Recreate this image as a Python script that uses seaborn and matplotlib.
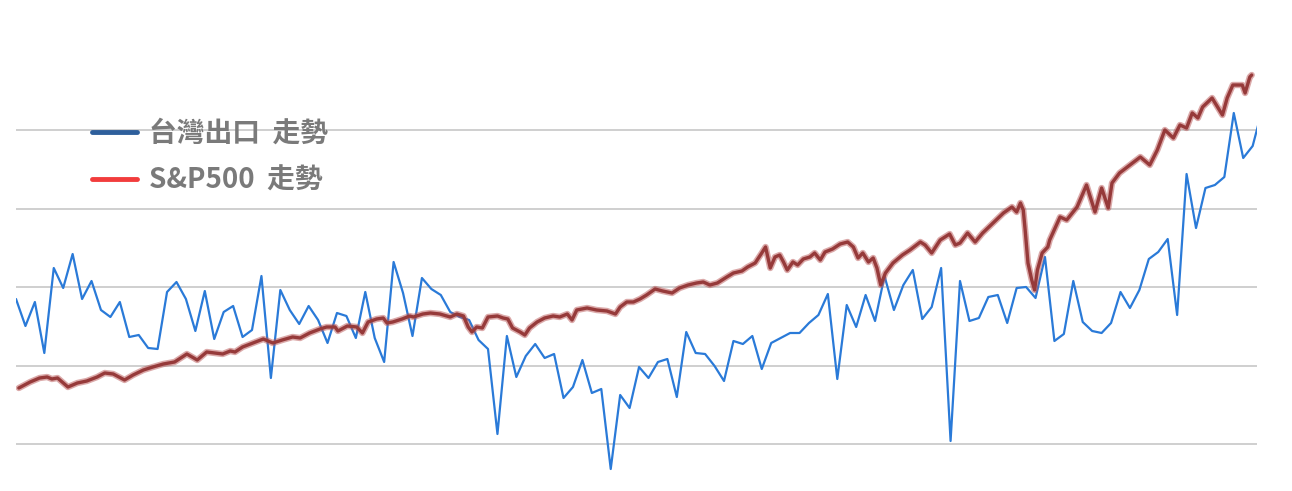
import numpy as np
import pandas as pd
import matplotlib
matplotlib.use("Agg")
import matplotlib.pyplot as plt
from matplotlib.lines import Line2D
import seaborn as sns

# Taiwan exports trend, monthly (relative index units, bottom gridline = 0)
export_trend = [
    145, 118, 142, 91, 176, 156, 190, 145, 163, 134, 127, 142, 107, 109, 96, 95,
    152, 162, 145, 113, 153, 105, 132, 138, 107, 114, 168, 66, 154, 134, 120, 138,
    124, 101, 131, 128, 106, 152, 106, 82, 182, 151, 108, 166, 155, 149, 132, 127,
    124, 104, 95, 10, 108, 67, 88, 100, 86, 90, 46, 57, 84, 51, 55, -25, 49, 36,
    77, 66, 82, 85, 47, 112, 91, 90, 78, 63, 103, 100, 108, 75, 101, 106, 111, 111,
    121, 129, 150, 65, 139, 117, 149, 123, 168, 134, 159, 174, 125, 137, 176, 3,
    163, 123, 126, 147, 149, 121, 156, 157, 146, 187, 103, 110, 163, 122, 113, 111,
    121, 152, 136, 154, 185, 192, 205, 129, 270, 216, 256, 259, 267, 331, 286, 298,
    334,
]
export_month = np.arange(len(export_trend))

# S&P500 trend, sampled at irregular points (month, same index units)
sp_month = [
    0.3, 1.5, 2.5, 3.3, 3.8, 4.4, 5.5, 6.5, 7.5, 8.6, 9.4, 10.3, 11.5, 12.4, 13.5,
    14.5, 15.6, 16.8, 18.1, 19.2, 20.2, 21.1, 21.9, 22.7, 23.2, 24.0, 25.1, 26.2,
    27.2, 28.2, 29.3, 30.1, 31.1, 32.2, 32.9, 33.8, 34.1, 35.1, 36.1, 36.7, 37.3,
    38.2, 38.9, 39.3, 39.9, 40.9, 41.7, 42.1, 43.1, 43.9, 44.9, 46.0, 46.7, 47.4,
    47.9, 48.3, 48.8, 49.4, 50.0, 51.0, 51.6, 52.1, 52.6, 53.4, 53.9, 54.4, 55.2,
    56.0, 56.9, 57.6, 58.4, 58.9, 59.4, 60.5, 61.5, 62.6, 63.5, 64.0, 64.7, 65.4,
    66.1, 66.8, 67.7, 68.5, 69.5, 70.3, 71.2, 72.1, 72.8, 73.5, 74.3, 75.3, 76.0,
    76.9, 77.5, 78.3, 79.0, 79.4, 79.9, 80.4, 80.9, 81.3, 81.7, 82.3, 82.8, 83.4,
    84.1, 84.6, 85.2, 85.7, 86.5, 87.3, 88.1, 88.7, 89.2, 89.7, 90.3, 90.8, 91.2,
    91.6, 92.1, 92.9, 93.9, 94.7, 95.8, 96.3, 97.0, 97.9, 98.9, 99.5, 100.0, 100.8,
    101.6, 102.4, 103.5, 104.6, 105.5, 106.0, 106.4, 106.7, 106.9, 107.2, 107.6,
    107.9, 108.2, 108.7, 109.3, 109.5, 110.6, 111.3, 112.4, 113.4, 114.3, 115.0,
    115.7, 116.1, 116.9, 118.0, 119.1, 120.1, 120.9, 121.7, 122.6, 123.3, 124.0,
    124.6, 125.2, 125.7, 126.7, 127.8, 128.3, 128.9, 129.9, 130.2, 130.7, 130.9,
]
sp_trend = [
    56, 62, 66, 67, 65, 66, 57, 61, 63, 67, 71, 70, 64, 69, 74,
    77, 80, 82, 90, 84, 92, 91, 90, 93, 92, 97, 101, 105,
    101, 104, 107, 106, 111, 115, 117, 117, 113, 118, 117, 111, 122,
    125, 126, 121, 122, 125, 128, 127, 130, 131, 130, 127, 130, 128,
    117, 112, 117, 116, 127, 128, 126, 125, 116, 112, 109, 116, 122,
    126, 128, 127, 130, 124, 134, 136, 134, 133, 130, 137, 142, 142,
    145, 149, 155, 153, 151, 156, 159, 161, 162, 159, 161, 167, 171,
    173, 177, 181, 191, 197, 176, 187, 189, 182, 174, 182, 179, 185,
    187, 191, 184, 192, 195, 200, 202, 197, 186, 191, 182, 186, 176,
    159, 171, 181, 189, 194, 202, 199, 191, 204, 210, 199, 201, 211,
    202, 211, 221, 231, 237, 232, 241, 234, 214, 181, 164,
    154, 174, 191, 197, 204, 227, 224, 237, 259, 232, 256,
    236, 261, 271, 279, 287, 279, 294, 314, 306, 319, 316,
    331, 326, 337, 346, 329, 346, 359, 359, 351, 367, 369,
]

labels = ["台灣出口  走勢", "S&P500  走勢"]
grid_levels = [0, 78.5, 157, 235.5, 314]

sns.set_style("white")
plt.rcParams["font.family"] = ["Noto Sans CJK TC", "DejaVu Sans"]

fig = plt.figure(figsize=(12.92, 4.91), dpi=100)
ax = fig.add_axes([16 / 1292, 0, 1241 / 1292, 1])

exports = pd.DataFrame({"month": export_month, "value": export_trend})
sp = pd.DataFrame({"month": sp_month, "value": sp_trend})

sns.lineplot(data=exports, x="month", y="value", ax=ax,
             color="#2a7ad8", linewidth=1.6, zorder=3)
# thick fuzzy brown-red line
sns.lineplot(data=sp, x="month", y="value", ax=ax, sort=False,
             color="#b85555", linewidth=4.6, alpha=0.5, zorder=4)
sns.lineplot(data=sp, x="month", y="value", ax=ax, sort=False,
             color="#963a3a", linewidth=2.4, zorder=5)

ax.set_xlim(0, 131.46)
ax.set_ylim(-47, 444)
ax.set_yticks(grid_levels)
ax.yaxis.grid(True, color="#cccccc", linewidth=1.3)
ax.set_xticks([])
ax.tick_params(left=False, labelleft=False)
ax.set_xlabel("")
ax.set_ylabel("")
for s in ax.spines.values():
    s.set_visible(False)

handles = [Line2D([], [], color="#2e5f9c", linewidth=3.5),
           Line2D([], [], color="#f23c3c", linewidth=3.5)]
leg = ax.legend(handles, labels, loc="upper left",
                bbox_to_anchor=(92 / 1292, 1 - 120 / 491),
                bbox_transform=fig.transFigure,
                frameon=False, handlelength=1.62, handletextpad=0.43,
                labelspacing=0.66, borderpad=0, borderaxespad=0,
                prop={"family": ["Noto Sans CJK TC", "DejaVu Sans"],
                      "weight": "bold", "size": 20},
                labelcolor="#7a7a7a")
leg.set_zorder(10)

fig.savefig("out.png", dpi=100)
